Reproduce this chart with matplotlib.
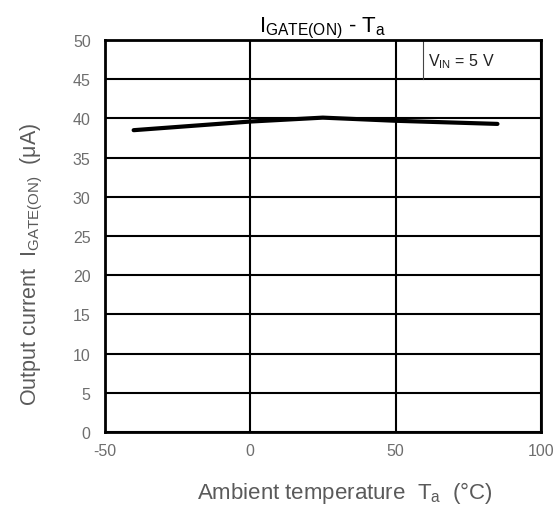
import matplotlib
matplotlib.use("Agg")
import matplotlib.pyplot as plt

plt.rcParams['font.family'] = ['Liberation Sans', 'DejaVu Sans']
plt.rcParams['mathtext.fontset'] = 'custom'
plt.rcParams['mathtext.rm'] = 'Liberation Sans'
plt.rcParams['mathtext.it'] = 'Liberation Sans:italic'
plt.rcParams['axes.unicode_minus'] = False

temp = [-40, 0, 25, 50, 85]
current = [38.5, 39.6, 40.1, 39.7, 39.3]

x_ticks = [-50, 0, 50, 100]
y_ticks = [0, 5, 10, 15, 20, 25, 30, 35, 40, 45, 50]

gray = '#6e6e6e'

fig = plt.figure(figsize=(5.59, 5.06), dpi=100)
ax = fig.add_axes([0.187, 0.144, 0.781, 0.775])

ax.set_xlim(-50, 100)
ax.set_ylim(0, 50)
ax.set_xticks(x_ticks)
ax.set_yticks(y_ticks)
ax.grid(True, color='black', linewidth=1.5)
ax.tick_params(length=0, colors=gray, labelsize=11.5)
ax.tick_params(axis='y', pad=10)
ax.tick_params(axis='x', pad=8)
for s in ax.spines.values():
    s.set_linewidth(2)
ax.set_axisbelow(True)

ax.plot(temp, current, color='black', linewidth=3, solid_capstyle='round', zorder=3)

# condition box in the upper right cell
ax.plot([59.5, 59.5], [45, 50], color='#444444', linewidth=0.8, zorder=2)
ax.text(61.3, 47.4, r'V$_\mathregular{IN}$ = 5 V', fontsize=11.5, va='center', ha='left', color='#222222')

ax.set_title(r'$\mathregular{I_{GATE(ON)}}$ - T$_\mathregular{a}$', fontsize=16, pad=5)
ax.set_xlabel(r'Ambient temperature  T$_\mathregular{a}$  (°C)', fontsize=16, color='#5a5a5a',
              labelpad=15, x=0.55)
ax.set_ylabel(r'Output current  I$_\mathregular{GATE(ON)}$  (μA)', fontsize=15.5, color='#5a5a5a',
              labelpad=20, y=0.43)

fig.savefig('out.png', dpi=100)
